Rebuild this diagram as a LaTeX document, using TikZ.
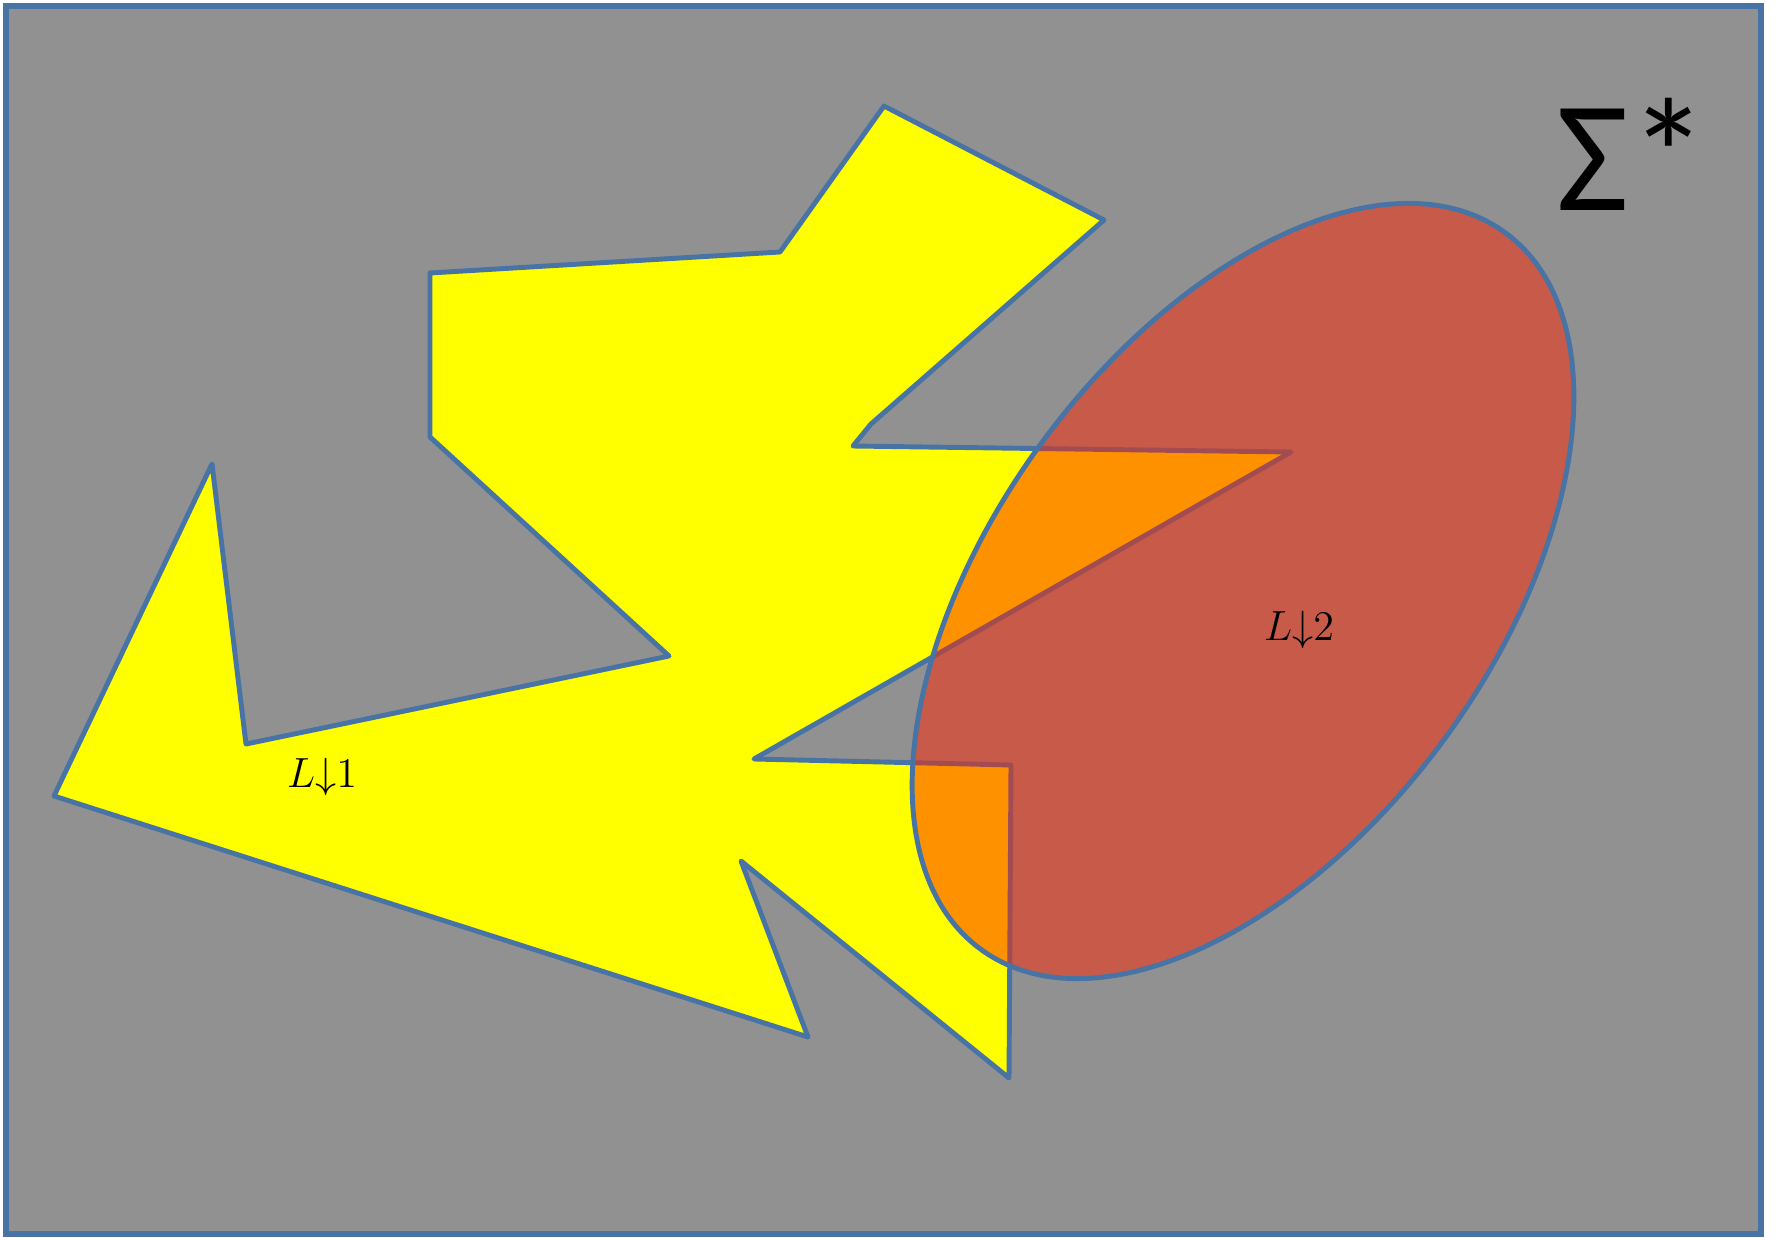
\documentclass[tikz,border=0pt]{standalone}
\usepackage{fontspec}
\newfontfamily\sigmafont{Carlito}
\definecolor{frameblue}{RGB}{72,116,165}
\definecolor{bggray}{RGB}{145,145,145}
\definecolor{langred}{RGB}{253,37,0}
\definecolor{langyellow}{RGB}{255,255,0}
\tikzset{
	outline/.style={draw=frameblue, line width=1.4pt, line join=round},
	langlabel/.style={font=\fontsize{13}{15}\selectfont, inner sep=0pt}
}
\begin{document}
\begin{tikzpicture}
	\useasboundingbox (0, 0) rectangle (17.81, 12.37);
	% the whole of Sigma*
	\path[fill=bggray, draw=frameblue, line width=1.8pt] (0.06, 0.03) rectangle (17.61, 12.31);
	% L1
	\path[outline, fill=langyellow] (8.84, 11.31) -- (11.04, 10.17) -- (8.71, 8.13) -- (8.53, 7.91) -- (12.91, 7.85) -- (7.54, 4.78) -- (10.11, 4.72) -- (10.09, 1.59) -- (7.41, 3.76) -- (8.08, 2.00) -- (0.54, 4.41) -- (2.12, 7.73) -- (2.46, 4.93) -- (6.69, 5.81) -- (4.30, 8.00) -- (4.30, 9.64) -- (7.80, 9.85) -- cycle;
	% L2
	\path[outline, fill=langred, fill opacity=0.5] (12.43, 6.46) ellipse[x radius=4.44, y radius=2.50, rotate=53.8];
	\node[langlabel] (l1) at (3.22, 4.60) {$L{\downarrow}1$};
	\node[langlabel] (l2) at (12.99, 6.07) {$L{\downarrow}2$};
	\node[anchor=base west, inner sep=0pt, font=\sigmafont\fontsize{45}{50}\selectfont] (sigma) at (15.56, 10.27) {Σ*};
\end{tikzpicture}
\end{document}
